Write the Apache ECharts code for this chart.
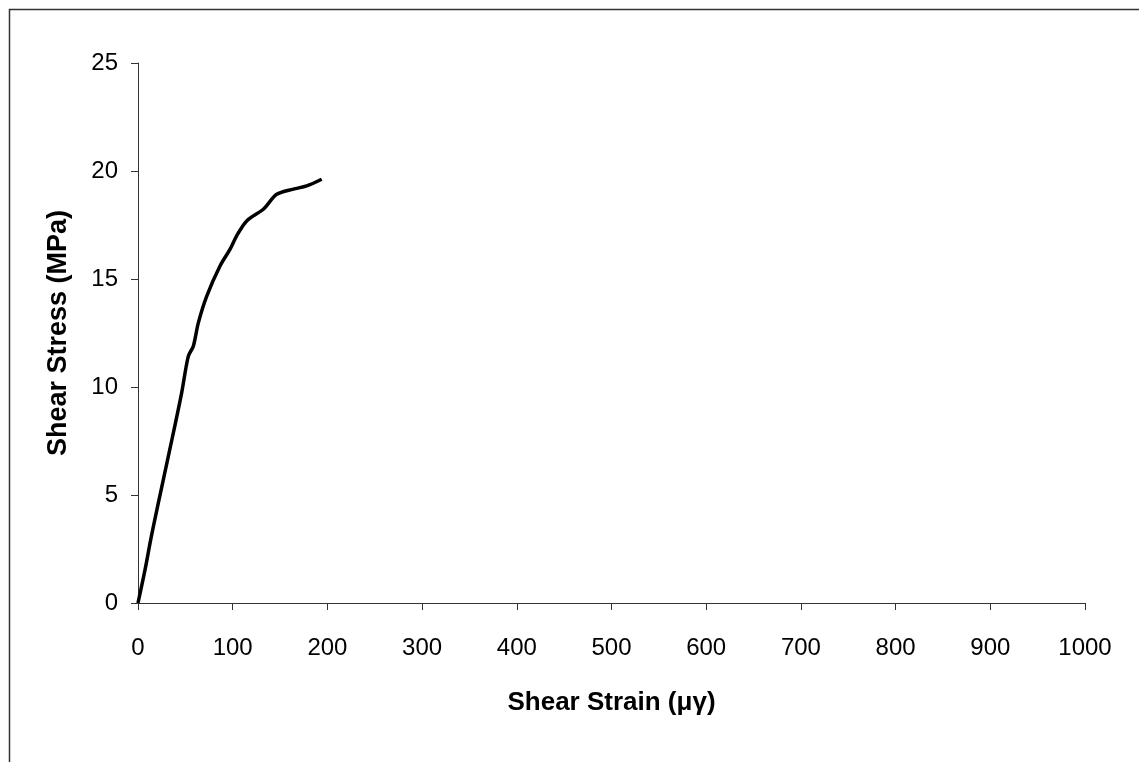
<!DOCTYPE html>
<html>
<head>
<meta charset="utf-8">
<script src="https://cdn.jsdelivr.net/npm/echarts@6/dist/echarts.min.js"></script>
<style>
    html, body { margin: 0; padding: 0; background: #fff; }
    #chart { width: 1139px; height: 762px; }
</style>
</head>
<body>
<div id="chart"></div>
<script>
// shear strain (microstrain)
var strain = [0, 7.4, 12.7, 16.2, 26.7, 37.3, 46.1, 53.1, 58.4, 63.7, 72.5, 86.6, 97.1, 104.2, 114.8, 132.3, 146.5, 164, 178.1, 194];
// shear stress (MPa)
var stress = [0, 1.53, 2.77, 3.54, 5.7, 7.87, 9.73, 11.42, 11.89, 12.97, 14.2, 15.6, 16.37, 17.0, 17.69, 18.23, 18.92, 19.16, 19.31, 19.62];

var xTitle = 'Shear Strain (μγ)';
var yTitle = 'Shear Stress (MPa)';

var chart = echarts.init(document.getElementById('chart'));

var points = strain.map(function (x, i) { return [x, stress[i]]; });

var font = 'Liberation Sans, Arial, sans-serif';

var option = {
    animation: false,
    backgroundColor: '#fff',
    grid: {
        left: 138,
        right: 54,
        top: 63,
        bottom: 159
    },
    xAxis: {
        type: 'value',
        min: 0,
        max: 1000,
        interval: 100,
        name: xTitle,
        nameLocation: 'middle',
        nameGap: 87,
        nameTextStyle: { color: '#000', fontSize: 26, fontWeight: 'bold', fontFamily: font },
        axisLine: { lineStyle: { color: '#333', width: 1 } },
        axisTick: { show: true, length: 7, lineStyle: { color: '#333' } },
        axisLabel: {
            color: '#000', fontSize: 24, fontFamily: font, margin: 33,
            formatter: function (v) { return String(v); }
        },
        splitLine: { show: false }
    },
    yAxis: {
        type: 'value',
        min: 0,
        max: 25,
        interval: 5,
        name: yTitle,
        nameLocation: 'middle',
        nameGap: 66,
        nameTextStyle: { color: '#000', fontSize: 27, fontWeight: 'bold', fontFamily: font },
        axisLine: { show: true, lineStyle: { color: '#333', width: 1 } },
        axisTick: { show: true, length: 7, lineStyle: { color: '#333' } },
        axisLabel: { color: '#000', fontSize: 24, fontFamily: font, margin: 20 },
        splitLine: { show: false }
    },
    graphic: [
        {
            type: 'polyline',
            shape: { points: [[9.5, 762], [9.5, 9.5], [1139, 9.5]] },
            style: { stroke: '#333', lineWidth: 1.5, fill: null }
        }
    ],
    series: [
        {
            type: 'line',
            data: points,
            showSymbol: false,
            smooth: 0.3,
            lineStyle: { color: '#000', width: 3.5 }
        }
    ]
};

chart.setOption(option);
</script>
</body>
</html>
